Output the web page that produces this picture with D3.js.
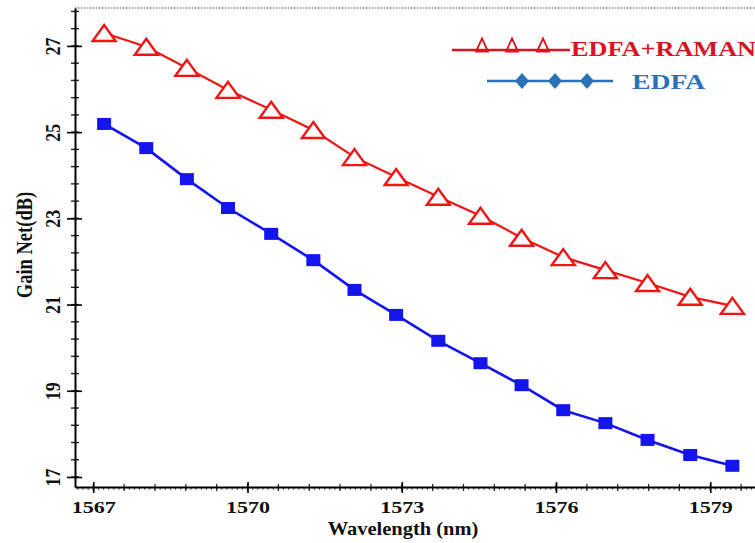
<!DOCTYPE html>
<html>
<head>
<meta charset="utf-8">
<script src="https://cdn.jsdelivr.net/npm/d3@7/dist/d3.min.js"></script>
<style>
  html, body { margin: 0; padding: 0; background: #fff; }
  svg { display: block; }
  text { font-family: "Liberation Serif", "Times New Roman", serif; font-weight: bold; }
</style>
</head>
<body>
<svg id="chart" width="755" height="543"></svg>
<script>
// Wavelength (nm) of each sample
const wavelengths = [1567.21, 1568.03, 1568.82, 1569.62, 1570.46, 1571.28, 1572.08, 1572.89,
                     1573.71, 1574.53, 1575.33, 1576.14, 1576.96, 1577.78, 1578.61, 1579.43];
// Net gain (dB) with hybrid EDFA + Raman amplification
const gainHybrid = [27.30, 26.98, 26.49, 25.98, 25.52, 25.05, 24.42, 23.96,
                    23.50, 23.06, 22.55, 22.10, 21.80, 21.50, 21.18, 20.97];
// Net gain (dB) with EDFA only
const gainEdfa = [25.19, 24.63, 23.91, 23.24, 22.64, 22.03, 21.34, 20.76,
                  20.16, 19.64, 19.13, 18.55, 18.25, 17.86, 17.51, 17.26];
const xTickValues = [1567, 1570, 1573, 1576, 1579];
const yTickValues = [17, 19, 21, 23, 25, 27];
const seriesNames = ["EDFA+RAMAN", "EDFA"];

const svg = d3.select("#chart");
const plotLeft = 75, plotRight = 755, plotTop = 8, plotBottom = 487;
// the lettering is set slightly wide
const widen = 1.3;

const x = d3.scaleLinear().domain([1566.644, 1579.87]).range([plotLeft, plotRight]);
const y = d3.scaleLinear().domain([16.768, 27.88]).range([plotBottom, plotTop]);

const red = "#f01414", blue = "#1414ee";

// dotted frame line along the top
svg.append("line")
  .attr("x1", plotLeft).attr("x2", plotRight).attr("y1", plotTop).attr("y2", plotTop)
  .attr("stroke", "#888").attr("stroke-width", 1.5).attr("stroke-dasharray", "1.5,1.5");

// ---- x axis ----
const xAxisG = svg.append("g").attr("transform", `translate(0,${plotBottom})`);
// fine ruler ticks
xAxisG.selectAll("line.fine")
  .data(d3.range(1566.7, 1579.85, 0.1))
  .join("line").attr("class", "fine")
  .attr("x1", d => x(d)).attr("x2", d => x(d))
  .attr("y1", 0).attr("y2", 3)
  .attr("stroke", "#333").attr("stroke-width", 0.8);
// minor ticks every 0.6 nm
xAxisG.selectAll("line.minor")
  .data(d3.range(1567, 1579.85, 0.6))
  .join("line").attr("class", "minor")
  .attr("x1", d => x(d)).attr("x2", d => x(d))
  .attr("y1", -3).attr("y2", 4)
  .attr("stroke", "#222").attr("stroke-width", 1.2);
xAxisG.call(d3.axisBottom(x).tickValues(xTickValues).tickFormat(d3.format("d"))
              .tickSizeInner(6).tickSizeOuter(0).tickPadding(8))
  .call(g => g.select(".domain").attr("stroke", "#000").attr("stroke-width", 2))
  .call(g => g.selectAll(".tick line").attr("y1", -5).attr("y2", 6)
                 .attr("stroke", "#000").attr("stroke-width", 1.6))
  .call(g => g.selectAll(".tick text").attr("font-size", 17)
                 .attr("font-family", "Liberation Serif").attr("font-weight", "bold")
                 .attr("fill", "#111")
                 .attr("transform", `scale(${widen},1)`)
                 .attr("x", 0));

// ---- y axis ----
const yAxisG = svg.append("g").attr("transform", `translate(${plotLeft},0)`);
yAxisG.selectAll("line.minor")
  .data(d3.range(16.6, 27.85, 0.4).filter(v => v >= 16.8))
  .join("line").attr("class", "minor")
  .attr("y1", d => y(d)).attr("y2", d => y(d))
  .attr("x1", -4).attr("x2", 4)
  .attr("stroke", "#222").attr("stroke-width", 1.4);
yAxisG.call(d3.axisLeft(y).tickValues(yTickValues).tickFormat(d3.format("d"))
              .tickSizeInner(8).tickSizeOuter(0).tickPadding(14))
  .call(g => g.select(".domain").attr("stroke", "#000").attr("stroke-width", 2))
  .call(g => g.selectAll(".tick line").attr("x1", -8).attr("x2", 7)
                 .attr("stroke", "#000").attr("stroke-width", 1.6))
  .call(g => g.selectAll(".tick text")
                 .attr("font-size", 18).attr("font-family", "Liberation Serif")
                 .attr("font-weight", "bold").attr("fill", "#111")
                 .attr("text-anchor", "middle")
                 .attr("x", 0)
                 .attr("transform", "translate(-22,0) scale(1.15,1) rotate(-90)")
                 .attr("dy", "0.35em"));

// axis titles
svg.append("text")
  .attr("transform", "translate(403,535) scale(1.05,1)")
  .attr("text-anchor", "middle").attr("font-size", 19.5).attr("fill", "#111")
  .text("Wavelength (nm)");
svg.append("text")
  .attr("transform", "translate(32,245) scale(1.2,1) rotate(-90)")
  .attr("text-anchor", "middle").attr("font-size", 18.5).attr("fill", "#111")
  .text("Gain Net(dB)");

// ---- series ----
const line = d3.line().x(d => x(d[0])).y(d => y(d[1]));
const hybridPts = wavelengths.map((w, i) => [w, gainHybrid[i]]);
const edfaPts = wavelengths.map((w, i) => [w, gainEdfa[i]]);

svg.append("path").datum(edfaPts).attr("d", line)
  .attr("fill", "none").attr("stroke", blue).attr("stroke-width", 2.6);
svg.selectAll("rect.edfa").data(edfaPts).join("rect").attr("class", "edfa")
  .attr("x", d => x(d[0]) - 7).attr("y", d => y(d[1]) - 6)
  .attr("width", 14).attr("height", 12).attr("fill", blue);

svg.append("path").datum(hybridPts).attr("d", line)
  .attr("fill", "none").attr("stroke", red).attr("stroke-width", 2.2);
const tri = (w, h) => `M0,${-h / 2}L${w / 2},${h / 2}L${-w / 2},${h / 2}Z`;
svg.selectAll("path.hyb").data(hybridPts).join("path").attr("class", "hyb")
  .attr("d", tri(23, 16))
  .attr("transform", d => `translate(${x(d[0])},${y(d[1])})`)
  .attr("fill", "#fff").attr("stroke", red).attr("stroke-width", 2.4)
  .attr("stroke-linejoin", "miter");

// ---- legend ----
const legRed = "#d8141e", legBlue = "#2a72b8";
const lg1 = svg.append("g");
lg1.append("line").attr("x1", 452).attr("x2", 570).attr("y1", 50).attr("y2", 50)
  .attr("stroke", legRed).attr("stroke-width", 2.4);
lg1.selectAll("path").data([482, 512, 543]).join("path")
  .attr("d", tri(12, 13)).attr("transform", d => `translate(${d},45)`)
  .attr("fill", "none").attr("stroke", legRed).attr("stroke-width", 1.8);
lg1.append("text").attr("transform", `translate(571,56) scale(1.25,1)`)
  .attr("font-size", 21).attr("fill", legRed).text(seriesNames[0]);

const lg2 = svg.append("g");
lg2.append("line").attr("x1", 487).attr("x2", 613).attr("y1", 81).attr("y2", 81)
  .attr("stroke", legBlue).attr("stroke-width", 2.4);
lg2.selectAll("path").data([522, 555, 587]).join("path")
  .attr("d", "M0,-8L7,0L0,8L-7,0Z").attr("transform", d => `translate(${d},81)`)
  .attr("fill", legBlue);
lg2.append("text").attr("transform", `translate(632,89) scale(1.32,1)`)
  .attr("font-size", 21).attr("fill", legBlue).text(seriesNames[1]);
</script>
</body>
</html>
